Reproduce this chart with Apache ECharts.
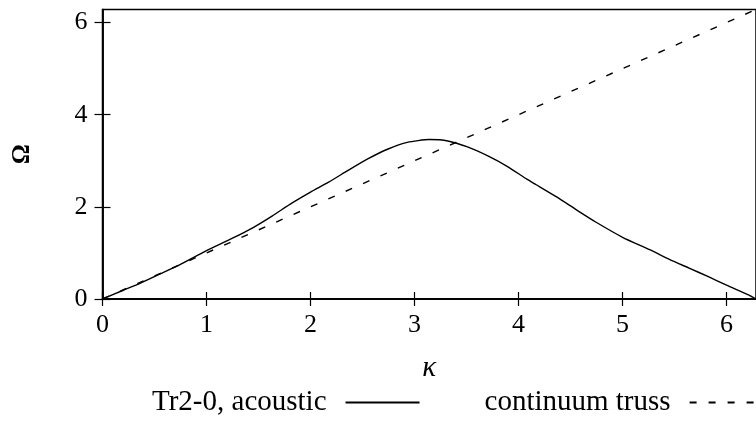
<!DOCTYPE html>
<html lang="en">

<head>
    <meta charset="UTF-8">
    <title>Dispersion Tr2-0</title>
    <script src="https://cdn.jsdelivr.net/npm/echarts@6.0.0/dist/echarts.min.js"></script>
</head>

<body style="margin:0">

    <div id="main" style="width: 756px;height:431px;"></div>

    <script type="text/javascript">
        // acoustic branch
        const kappa = [0, 0.2, 0.36, 0.55, 0.74, 1.0, 1.25, 1.44, 1.63, 1.82, 2.0, 2.17, 2.36, 2.55, 2.74, 2.93, 3.14, 3.32,
            3.51, 3.70, 3.89, 4.08, 4.17, 4.37, 4.56, 4.75, 5.0, 5.26, 5.45, 5.64, 5.83, 6.0, 6.21, 6.283];
        const omegaAcoustic = [0, 0.19, 0.34, 0.54, 0.74, 1.05, 1.32, 1.54, 1.80, 2.08, 2.32, 2.53, 2.79, 3.04, 3.25, 3.40, 3.46, 3.43,
            3.30, 3.11, 2.88, 2.60, 2.48, 2.21, 1.93, 1.66, 1.34, 1.07, 0.86, 0.67, 0.48, 0.30, 0.09, 0];

        // continuum truss, straight line
        const kappaTruss = [0, 6.283];
        const omegaTruss = [0, 6.283];

        const xTicks = [0, 1, 2, 3, 4, 5, 6];
        const yTicks = [0, 2, 4, 6];

        const font = 'Liberation Serif';

        var chart = echarts.init(document.getElementById('main'));

        // ticks cross the axis: grid 0 has the outside ticks + labels,
        // grid 1 sits on top of it and only draws the inside ticks
        function xAx(grid, withLabels) {
            return {
                gridIndex: grid,
                type: 'value', min: 0, max: 6.283, position: 'bottom',
                axisLine: { show: true, onZero: false, lineStyle: { color: '#000', width: 1.5 } },
                axisTick: { show: true, inside: !withLabels, length: 7, customValues: xTicks, lineStyle: { color: '#000', width: 1.2 } },
                axisLabel: {
                    show: withLabels, customValues: xTicks, margin: 13,
                    fontFamily: font, fontSize: 26, color: '#000'
                },
                splitLine: { show: false },
                name: withLabels ? 'κ' : '',
                nameLocation: 'middle', nameGap: 55,
                nameTextStyle: { fontFamily: font, fontStyle: 'italic', fontSize: 29, color: '#000' }
            };
        }
        function yAx(grid, withLabels) {
            return {
                gridIndex: grid,
                type: 'value', min: 0, max: 6.283, position: 'left',
                axisLine: { show: true, onZero: false, lineStyle: { color: '#000', width: 1.5 } },
                axisTick: { show: true, inside: !withLabels, length: 8, customValues: yTicks, lineStyle: { color: '#000', width: 1.2 } },
                axisLabel: {
                    show: withLabels, customValues: yTicks, margin: 15,
                    fontFamily: font, fontSize: 26, color: '#000'
                },
                splitLine: { show: false },
                name: withLabels ? 'Ω' : '',
                nameLocation: 'middle', nameGap: 67, nameRotate: 90,
                nameTextStyle: { fontFamily: font, fontWeight: 'bold', fontSize: 25, color: '#000' }
            };
        }

        var gridBox = { left: 102.5, top: 9.5, right: -5, bottom: 132 };

        var option = {
            animation: false,
            grid: [
                Object.assign({ show: true, borderColor: '#000', borderWidth: 1.5 }, gridBox),
                Object.assign({}, gridBox)
            ],
            xAxis: [xAx(0, true), xAx(1, false)],
            yAxis: [yAx(0, true), yAx(1, false)],
            legend: {
                left: 147, top: 383, width: 900,
                align: 'right',
                itemWidth: 74, itemHeight: 14, itemGap: 64,
                itemStyle: { opacity: 0 },
                textStyle: { fontFamily: font, fontSize: 29, color: '#000', padding: [0, 14, 0, 0] },
                data: ['Tr2-0, acoustic', 'continuum truss']
            },
            series: [
                {
                    name: 'Tr2-0, acoustic',
                    type: 'line',
                    smooth: 0.2,
                    symbol: 'none',
                    lineStyle: { color: '#000', width: 1.4 },
                    itemStyle: { color: '#000' },
                    data: kappa.map((k, i) => [k, omegaAcoustic[i]])
                },
                {
                    name: 'continuum truss',
                    type: 'line',
                    symbol: 'none',
                    lineStyle: { color: '#000', width: 1.4, type: [7, 12] },
                    itemStyle: { color: '#000' },
                    data: kappaTruss.map((k, i) => [k, omegaTruss[i]])
                }
            ]
        };

        chart.setOption(option);
    </script>
</body>

</html>
